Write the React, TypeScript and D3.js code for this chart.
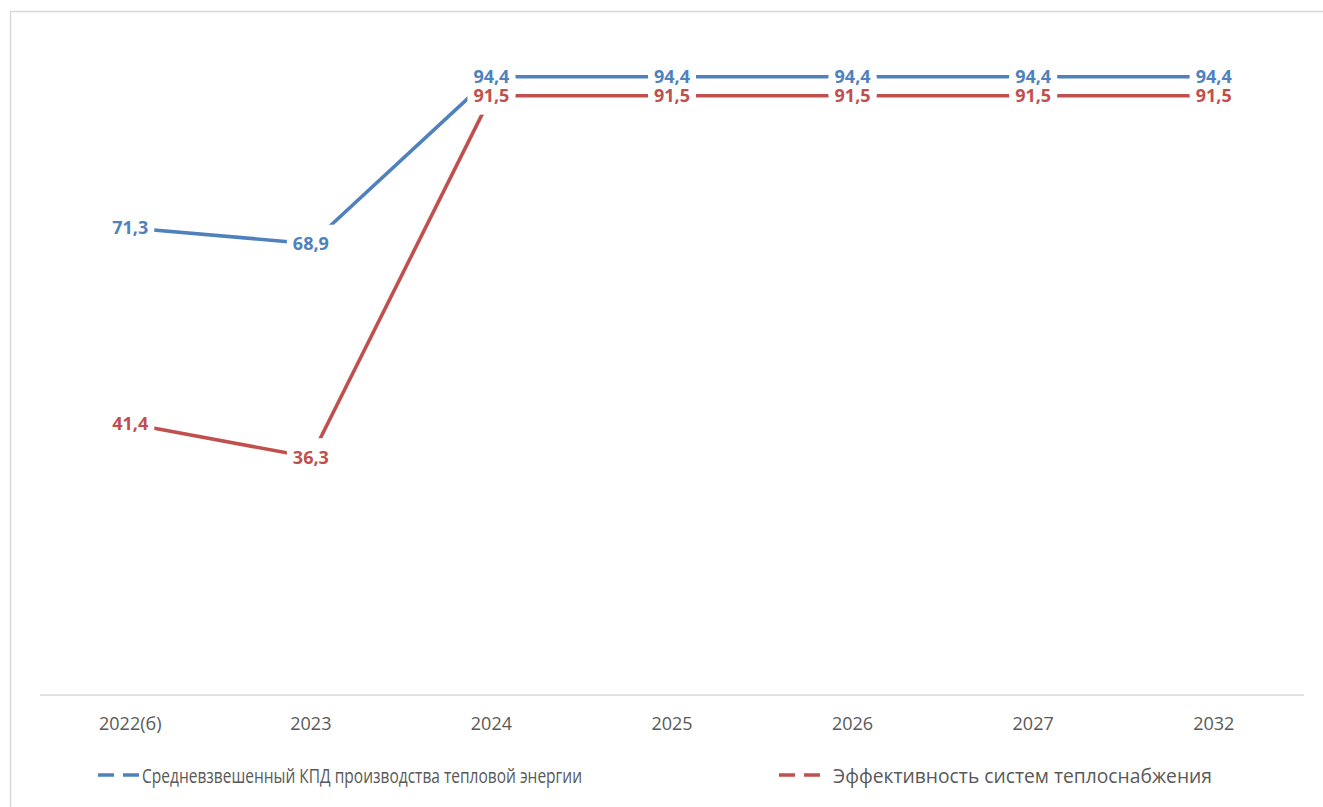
import React from "react";
import * as d3 from "d3";

const categories = ["2022(б)", "2023", "2024", "2025", "2026", "2027", "2032"];
const kpdValues = [71.3, 68.9, 94.4, 94.4, 94.4, 94.4, 94.4];
const effValues = [41.4, 36.3, 91.5, 91.5, 91.5, 91.5, 91.5];
const seriesNames = [
  "Средневзвешенный КПД производства тепловой энергии",
  "Эффективность систем теплоснабжения",
];
const seriesColors = ["#4F81BD", "#C0504D"];

const W = 1323;
const H = 807;
const FONT = "'Open Sans', 'Noto Sans', sans-serif";

const fmt = (v: number) => v.toFixed(1).replace(".", ",");

export default function App() {
  const x = d3.scaleBand<string>().domain(categories).range([40, 1304]).padding(0);
  const y = d3.scaleLinear().domain([0, 100]).range([695, 40]);
  const cx = (c: string) => (x(c) as number) + x.bandwidth() / 2;

  const series = [kpdValues, effValues];
  const line = d3
    .line<number>()
    .x((_, i) => cx(categories[i]))
    .y((d) => y(d));

  const legendItems = [
    { x: 98, tx: 142, len: 440 },
    { x: 779, tx: 833, len: 379 },
  ];

  return (
    <div style={{ position: "absolute", left: 0, top: 0 }}>
      <svg width={W} height={H} style={{ display: "block" }}>
        <rect x={0} y={0} width={W} height={H} fill="#fff" />
        <rect x={10.5} y={11.5} width={1340} height={840} fill="#fff" stroke="#D9D9D9" strokeWidth={1.5} />
        <line x1={40} x2={1304} y1={y(0)} y2={y(0)} stroke="#D9D9D9" strokeWidth={1.5} />
        {categories.map((c) => (
          <text
            key={c}
            x={cx(c)}
            y={730}
            textAnchor="middle"
            fontFamily={FONT}
            fontSize={18}
            fill="#595959"
          >
            {c}
          </text>
        ))}
        {series.map((vals, si) => (
          <path
            key={"l" + si}
            d={line(vals) || ""}
            fill="none"
            stroke={seriesColors[si]}
            strokeWidth={3.6}
            strokeLinejoin="round"
          />
        ))}
        {series.map((vals, si) =>
          vals.map((v, i) => (
            <rect
              key={"r" + si + "-" + i}
              x={cx(categories[i]) - 24}
              y={y(v) - 19}
              width={48}
              height={38}
              fill="#fff"
            />
          ))
        )}
        {series.map((vals, si) =>
          vals.map((v, i) => (
            <text
              key={"t" + si + "-" + i}
              x={cx(categories[i])}
              y={y(v)}
              dy="0.36em"
              textAnchor="middle"
              fontFamily={FONT}
              fontWeight={700}
              fontSize={18}
              fill={seriesColors[si]}
            >
              {fmt(v)}
            </text>
          ))
        )}
        {legendItems.map((it, si) => (
          <g key={"lg" + si}>
            <line
              x1={it.x}
              x2={it.x + 42}
              y1={775}
              y2={775}
              stroke={seriesColors[si]}
              strokeWidth={3.6}
              strokeDasharray="16 9"
            />
            <text
              x={it.tx}
              y={783}
              fontFamily={FONT}
              fontSize={20}
              fill="#595959"
              textLength={it.len}
              lengthAdjust="spacingAndGlyphs"
            >
              {seriesNames[si]}
            </text>
          </g>
        ))}
      </svg>
    </div>
  );
}
